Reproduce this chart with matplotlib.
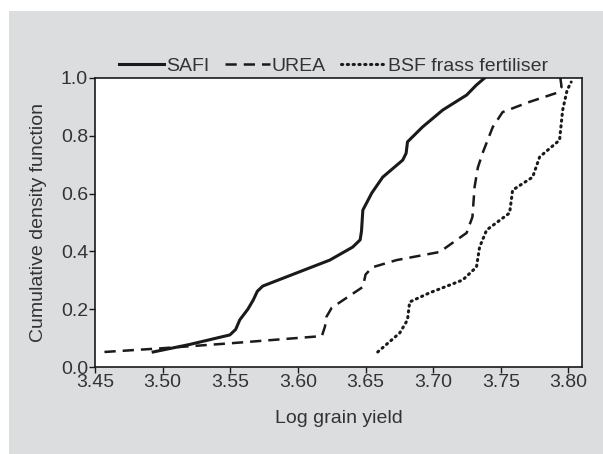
import matplotlib.pyplot as plt
from matplotlib.patches import Rectangle

# valores
safi_x = [3.493, 3.52, 3.5497, 3.554, 3.557, 3.563, 3.567, 3.570, 3.574, 3.585, 3.6236,
          3.6405, 3.646, 3.647, 3.648, 3.6546, 3.6627, 3.6775, 3.680, 3.681, 3.692,
          3.707, 3.7247, 3.732, 3.738]
safi_y = [0.052, 0.078, 0.111, 0.130, 0.163, 0.200, 0.232, 0.262, 0.280, 0.300, 0.370,
          0.415, 0.440, 0.470, 0.543, 0.602, 0.657, 0.716, 0.740, 0.779, 0.830,
          0.889, 0.941, 0.976, 1.0]

urea_x = [3.457, 3.50, 3.55, 3.6177, 3.620, 3.621, 3.625, 3.648, 3.650, 3.655, 3.673,
          3.7048, 3.7247, 3.729, 3.7306, 3.733, 3.7365, 3.744, 3.7513, 3.771, 3.791,
          3.7949, 3.794]
urea_y = [0.052, 0.065, 0.082, 0.107, 0.140, 0.173, 0.205, 0.277, 0.320, 0.345, 0.370,
          0.398, 0.464, 0.519, 0.623, 0.690, 0.740, 0.830, 0.882, 0.917, 0.948,
          0.969, 1.0]

bsf_x = [3.659, 3.6753, 3.681, 3.6826, 3.697, 3.7218, 3.732, 3.7343, 3.7395, 3.7565,
         3.7587, 3.7735, 3.7787, 3.7934, 3.7957, 3.799, 3.802]
bsf_y = [0.052, 0.118, 0.163, 0.225, 0.256, 0.301, 0.346, 0.415, 0.474, 0.533,
         0.612, 0.657, 0.727, 0.785, 0.889, 0.958, 0.986]

x_ticks = [3.45, 3.50, 3.55, 3.60, 3.65, 3.70, 3.75, 3.80]
y_ticks = [0.0, 0.2, 0.4, 0.6, 0.8, 1.0]

plt.rcParams['font.family'] = ['Liberation Sans', 'DejaVu Sans']
cinza = '#dcdddf'
texto = '#333333'
fs = 14

fig = plt.figure(figsize=(6.03, 4.54), dpi=100, facecolor='white')
fig.patches.append(Rectangle((9 / 603, 0), 1, 1 - 11 / 454, transform=fig.transFigure,
                             facecolor=cinza, edgecolor='none', zorder=-10))
ax = fig.add_axes([95 / 603, 1 - 367 / 454, (582 - 95) / 603, (367 - 78) / 454])
ax.set_facecolor('white')

ax.plot(safi_x, safi_y, color='#1a1a1a', lw=2.2, linestyle='-', label='SAFI')
ax.plot(urea_x, urea_y, color='#1a1a1a', lw=1.8, linestyle=(0, (4.5, 2.8)), label='UREA')
ax.plot(bsf_x, bsf_y, color='#1a1a1a', lw=2.2, linestyle=(0, (0.4, 1.5)),
        dash_capstyle='round', label='BSF frass fertiliser')

ax.set_xlim(3.45, 3.81)
ax.set_ylim(0, 1)
ax.set_xticks(x_ticks)
ax.set_xticklabels(['%.2f' % v for v in x_ticks])
ax.set_yticks(y_ticks)
ax.set_yticklabels(['%.1f' % v for v in y_ticks])
ax.tick_params(direction='out', length=4, width=1, labelsize=fs, colors='#1a1a1a',
               labelcolor=texto, pad=1)
for s in ax.spines.values():
    s.set_linewidth(1.2)
    s.set_color('#1a1a1a')

ax.set_xlabel('Log grain yield', fontsize=fs, color=texto, labelpad=14)
ax.set_ylabel('Cumulative density function', fontsize=fs, color=texto, labelpad=10)

ax.legend(loc='lower center', bbox_to_anchor=(0.49, 0.985), ncol=3, frameon=False,
          fontsize=fs, handlelength=2.3, handletextpad=0.1, columnspacing=0.8,
          borderaxespad=0, labelcolor=texto)

fig.savefig('out.png', dpi=100, facecolor='white')
